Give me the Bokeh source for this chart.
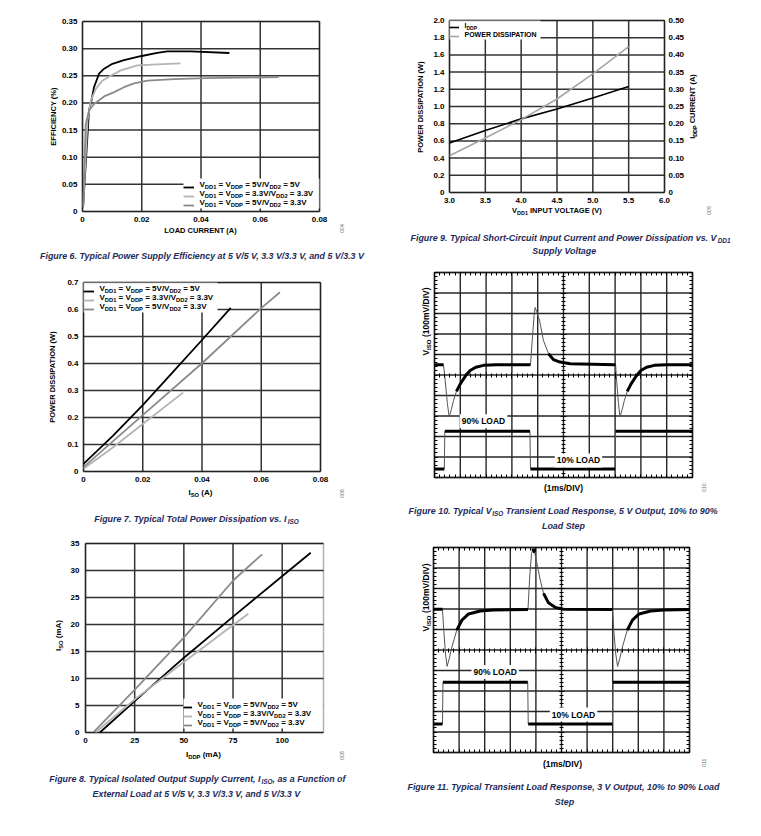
import math
from bokeh.plotting import figure
from bokeh.models import (Range1d, LinearAxis, FixedTicker, Label, Legend, LegendItem,
                          CustomJSTickFormatter, BoxAnnotation)
from bokeh.core.properties import value
from bokeh.layouts import row, column
from bokeh.embed import file_html
from bokeh.resources import INLINE

# ---------------- data ----------------
# Figure 6: efficiency vs load current (A)
F6_I_55 = [0.0002, 0.0022, 0.0030, 0.0039, 0.0056, 0.0073, 0.0101, 0.0140, 0.0196, 0.0252, 0.0286, 0.0365, 0.0496]
F6_E_55 = [0.008, 0.186, 0.204, 0.229, 0.254, 0.263, 0.272, 0.279, 0.286, 0.292, 0.295, 0.295, 0.292]
F6_I_33 = [0.0002, 0.0017, 0.0028, 0.0045, 0.0067, 0.0095, 0.0129, 0.0185, 0.0252, 0.0331]
F6_E_33 = [0.008, 0.168, 0.204, 0.226, 0.241, 0.250, 0.260, 0.269, 0.271, 0.273]
F6_I_53 = [0.0002, 0.0011, 0.0022, 0.0039, 0.0073, 0.0107, 0.0140, 0.0174, 0.0219, 0.0309, 0.0420, 0.0662]
F6_E_53 = [0.008, 0.161, 0.186, 0.198, 0.212, 0.220, 0.229, 0.236, 0.241, 0.244, 0.2456, 0.2475]
F6_XTICKS = [0, 0.02, 0.04, 0.06, 0.08]
F6_XLABELS = ["0", "0.02", "0.04", "0.06", "0.08"]
F6_YTICKS = [0, 0.05, 0.10, 0.15, 0.20, 0.25, 0.30, 0.35]
F6_YLABELS = ["0", "0.05", "0.10", "0.15", "0.20", "0.25", "0.30", "0.35"]

# Figure 7: power dissipation (W) vs I_ISO (A)
F7_I_55 = [0, 0.01, 0.02, 0.03, 0.04, 0.0497]
F7_P_55 = [0.028, 0.133, 0.246, 0.366, 0.487, 0.606]
F7_I_33 = [0, 0.01, 0.02, 0.0336]
F7_P_33 = [0.010, 0.090, 0.176, 0.292]
F7_I_53 = [0, 0.02, 0.04, 0.06, 0.0663]
F7_P_53 = [0.016, 0.209, 0.401, 0.605, 0.664]
F7_XTICKS = [0, 0.02, 0.04, 0.06, 0.08]
F7_XLABELS = ["0", "0.02", "0.04", "0.06", "0.08"]
F7_YTICKS = [0, 0.1, 0.2, 0.3, 0.4, 0.5, 0.6, 0.7]
F7_YLABELS = ["0", "0.1", "0.2", "0.3", "0.4", "0.5", "0.6", "0.7"]

# Figure 8: I_ISO (mA) vs I_DDP (mA)
F8_D_55 = [7.3, 25.3, 50.2, 75.2, 99.8, 114.5]
F8_S_55 = [0, 5.9, 13.9, 21.5, 28.9, 33.3]
F8_D_33 = [5.1, 25.3, 50.2, 75.2, 82.8]
F8_S_33 = [0, 6.2, 13.1, 19.95, 22.0]
F8_D_53 = [4.25, 25.3, 50.2, 75.2, 89.8]
F8_S_53 = [0.1, 8.05, 17.66, 28.2, 33.0]
F8_XTICKS = [0, 25, 50, 75, 100]
F8_XLABELS = ["0", "25", "50", "75", "100"]
F8_YTICKS = [0, 5, 10, 15, 20, 25, 30, 35]
F8_YLABELS = ["0", "5", "10", "15", "20", "25", "30", "35"]

# Figure 9: short-circuit I_DDP (A) and power dissipation (W) vs V_DD1 (V)
F9_VDD1 = [3.0, 3.5, 4.0, 4.5, 5.0, 5.5]
F9_IDDP = [0.144, 0.180, 0.214, 0.243, 0.275, 0.308]
F9_PDIS = [0.427, 0.633, 0.847, 1.087, 1.379, 1.697]
F9_XTICKS = [3, 3.5, 4, 4.5, 5, 5.5, 6]
F9_XLABELS = ["3.0", "3.5", "4.0", "4.5", "5.0", "5.5", "6.0"]
F9_YTICKS = [0, 0.2, 0.4, 0.6, 0.8, 1, 1.2, 1.4, 1.6, 1.8, 2]
F9_YLABELS = ["0", "0.2", "0.4", "0.6", "0.8", "1.0", "1.2", "1.4", "1.6", "1.8", "2.0"]
F9_Y2TICKS = [0, 0.05, 0.1, 0.15, 0.2, 0.25, 0.3, 0.35, 0.4, 0.45, 0.5]
F9_Y2LABELS = ["0", "0.05", "0.10", "0.15", "0.20", "0.25", "0.30", "0.35", "0.40", "0.45", "0.50"]

# Figure 10: scope traces, in divisions (time 0..10, vertical 0..10)
F10_T_V = [0, 0.35, 0.40, 0.50, 0.57, 0.65, 0.74, 0.85, 1.0, 1.2, 1.38, 1.6, 1.9, 2.4, 3.72,
           3.80, 3.86, 3.90, 3.96, 4.07, 4.22, 4.42, 4.61, 4.87, 5.26, 6.99,
           7.02, 7.05, 7.13, 7.19, 7.27, 7.36, 7.47, 7.62, 7.82, 8.0, 8.22, 8.52, 9.0, 10]
F10_V = [5.5, 5.5, 4.9, 3.6, 2.96, 3.3, 3.76, 4.2, 4.57, 4.95, 5.22, 5.38, 5.47, 5.5, 5.5,
         6.9, 7.9, 8.29, 8.1, 7.67, 6.69, 6.04, 5.75, 5.63, 5.55, 5.5,
         5.5, 4.9, 3.6, 2.96, 3.3, 3.76, 4.2, 4.57, 4.95, 5.22, 5.38, 5.47, 5.5, 5.5]
F10_T_L = [0, 0.38, 0.40, 3.70, 3.72, 7.00, 7.02, 10]
F10_L = [0.42, 0.42, 2.26, 2.26, 0.42, 0.42, 2.26, 2.26]
F10_LOAD_TEXT = ["90% LOAD", "10% LOAD"]
F10_LOAD_POS = [(1.9, 2.75), (5.58, 0.83)]

# Figure 11
F11_T_V = [0, 0.35, 0.40, 0.47, 0.53, 0.62, 0.72, 0.91, 1.11, 1.37, 1.82, 2.34, 3.69,
           3.76, 3.83, 3.88, 3.95, 4.04, 4.17, 4.30, 4.49, 4.75, 5.08, 6.99,
           7.04, 7.12, 7.19, 7.28, 7.38, 7.57, 7.77, 8.03, 8.48, 9.0, 10]
F11_V = [6.99, 6.99, 6.0, 4.8, 4.2, 4.6, 5.15, 5.97, 6.46, 6.76, 6.90, 6.95, 6.97,
         8.6, 9.7, 9.95, 9.75, 9.23, 8.41, 7.76, 7.30, 7.08, 6.99, 6.98,
         6.0, 4.8, 4.2, 4.6, 5.15, 5.97, 6.46, 6.76, 6.90, 6.95, 6.98]
F11_T_L = [0, 0.35, 0.37, 3.68, 3.70, 6.99, 7.01, 10]
F11_L = [1.39, 1.39, 3.43, 3.43, 1.39, 1.39, 3.43, 3.43]
F11_LOAD_TEXT = ["90% LOAD", "10% LOAD"]
F11_LOAD_POS = [(2.41, 3.93), (5.47, 1.85)]

SCOPE_TICKS = [0, 1, 2, 3, 4, 5, 6, 7, 8, 9, 10]

SUB = "_"
LEGEND_3 = [
    ["V", (SUB, "DD1"), " = V", (SUB, "DDP"), " = 5V/V", (SUB, "DD2"), " = 5V"],
    ["V", (SUB, "DD1"), " = V", (SUB, "DDP"), " = 3.3V/V", (SUB, "DD2"), " = 3.3V"],
    ["V", (SUB, "DD1"), " = V", (SUB, "DDP"), " = 5V/V", (SUB, "DD2"), " = 3.3V"],
]
LEGEND_9 = [["I", (SUB, "DDP")], ["POWER DISSIPATION"]]

# ---------------- styling ----------------
FONT = "Liberation Sans"
CAP_COLOR = "#1d2a5a"
CAP_SIZE = 8.9
BLACK = "#000000"
LIGHT = "#b4b4b4"
MID = "#8a8a8a"
GRID = "#333333"

_W = {' ': 278, '!': 333, '%': 889, '(': 333, ')': 333, ',': 278, '-': 333, '.': 278, '/': 278,
      ':': 333, '=': 584,
      'A': 722, 'B': 722, 'C': 722, 'D': 722, 'E': 667, 'F': 611, 'G': 778, 'H': 722, 'I': 278,
      'J': 556, 'K': 722, 'L': 611, 'M': 833, 'N': 722, 'O': 778, 'P': 667, 'Q': 778, 'R': 722,
      'S': 667, 'T': 611, 'U': 722, 'V': 667, 'W': 944, 'X': 667, 'Y': 667, 'Z': 611,
      'a': 556, 'b': 611, 'c': 556, 'd': 611, 'e': 556, 'f': 333, 'g': 611, 'h': 611, 'i': 278,
      'j': 278, 'k': 556, 'l': 278, 'm': 889, 'n': 611, 'o': 611, 'p': 611, 'q': 611, 'r': 389,
      's': 556, 't': 333, 'u': 611, 'v': 556, 'w': 778, 'x': 556, 'y': 556, 'z': 500}


def text_w(s, size):
    return sum(_W.get(c, 556) for c in s) * size / 1000.0


class Panel:
    """Maps page pixels to the data coordinates of one chart."""

    def __init__(self, frame, xr, yr):
        self.p = None
        self.l, self.t, self.r, self.b = frame
        self.xr, self.yr = xr, yr

    def data(self, px, py, yr=None):
        yr = yr or self.yr
        x = self.xr[0] + (px - self.l) / (self.r - self.l) * (self.xr[1] - self.xr[0])
        y = yr[0] + (self.b - py) / (self.b - self.t) * (yr[1] - yr[0])
        return x, y

    def rich(self, px, py, parts, size=8.0, align="center", vertical=False, font=FONT,
             style="bold", color="black", sub_scale=0.72):
        segs = [(q[1], True) if isinstance(q, tuple) else (q, False) for q in parts]
        sizes = [size * sub_scale if sub else size for _, sub in segs]
        widths = [text_w(t, s) for (t, _), s in zip(segs, sizes)]
        total = sum(widths)
        cur = {"left": 0.0, "center": -total / 2.0, "right": -total}[align]
        for (t, sub), s, w in zip(segs, sizes, widths):
            lead = len(t) - len(t.lstrip(" "))
            shown = t.strip(" ")
            start = cur + text_w(" " * lead, s)
            shift = 0.32 * size if sub else 0.0
            if vertical:
                qx, qy, ang = px + shift, py - start, math.pi / 2
            else:
                qx, qy, ang = px + start, py + shift, 0.0
            x, y = self.data(qx, qy)
            if shown:
                self.p.add_layout(Label(x=x, y=y, text=shown, angle=ang, text_align="left",
                                        text_baseline="middle", text_font=font,
                                        text_font_style=style, text_font_size=f"{s:.2f}px",
                                        text_color=color))
            cur += w


def style_axis(ax, ticks, labels, standoff=5):
    ax.ticker = FixedTicker(ticks=ticks, minor_ticks=[])
    ax.major_label_overrides = {(int(t) if float(t).is_integer() else t): s
                                for t, s in zip(ticks, labels)}
    ax.axis_line_color = None
    ax.major_tick_line_color = None
    ax.minor_tick_line_color = None
    ax.major_tick_in = 0
    ax.major_tick_out = 0
    ax.minor_tick_in = 0
    ax.minor_tick_out = 0
    ax.major_label_standoff = standoff
    ax.major_label_text_font = FONT
    ax.major_label_text_font_style = "bold"
    ax.major_label_text_font_size = "8px"
    ax.major_label_text_color = "black"


def make_chart(origin, size, frame, xr, yr):
    ox, oy = origin
    w, h = size
    pan = Panel(frame, xr, yr)
    xa, yb = pan.data(ox, oy)
    xb, ya = pan.data(ox + w, oy + h)
    p = figure(width=w, height=h, x_range=Range1d(xa, xb), y_range=Range1d(ya, yb),
               x_axis_type=None, y_axis_type=None, min_border=0,
               toolbar_location=None, output_backend="svg")
    p.outline_line_color = None
    p.background_fill_color = "white"
    p.border_fill_color = "white"
    pan.p = p
    pan.origin = origin
    pan.size = size
    return p, pan


def gridlines(p, pan, xt, yt, color=GRID, width=1.5):
    x0, x1 = pan.xr
    y0, y1 = pan.yr
    p.segment(x0=xt, y0=[y0] * len(xt), x1=xt, y1=[y1] * len(xt),
              line_color=color, line_width=width, level="underlay")
    p.segment(x0=[x0] * len(yt), y0=yt, x1=[x1] * len(yt), y1=yt,
              line_color=color, line_width=width, level="underlay")


def frame_box(p, pan, width=1.5):
    p.add_layout(BoxAnnotation(left=pan.xr[0], right=pan.xr[1], bottom=pan.yr[0], top=pan.yr[1],
                               fill_alpha=0, fill_color=None, line_color="black",
                               line_width=width))


def value_axes(p, pan, xt, xl, yt, yl, ystand=5):
    ax = LinearAxis(fixed_location=pan.yr[0])
    style_axis(ax, xt, xl, 5)
    p.add_layout(ax, "below")
    ay = LinearAxis(fixed_location=pan.xr[0])
    style_axis(ay, yt, yl, ystand)
    p.add_layout(ay, "left")


def legend_box(p, pan, box):
    bl, bt, br, bb = box
    x0, y0 = pan.data(bl, bb)
    x1, y1 = pan.data(br, bt)
    p.quad(left=[x0], right=[x1], bottom=[y0], top=[y1], fill_color="white",
           line_color=None, level="underlay")


def add_legend(p, pan, renderers, box, glyph_w, padding, spacing):
    bl, bt, br, bb = box
    ox, oy = pan.origin
    w, h = pan.size
    label_w = (br - bl) - 2 * padding - glyph_w - 2
    items = [LegendItem(label=value(" "), renderers=[r]) for r in renderers]
    lg = Legend(items=items, location=(bl - ox, oy + h - bb), orientation="vertical",
                glyph_width=glyph_w, glyph_height=6, label_height=6, label_width=label_w,
                label_standoff=2, padding=padding, spacing=spacing, margin=0,
                border_line_color=None, background_fill_alpha=0.0,
                label_text_font_size="5px")
    p.add_layout(lg)


def caption(pan, lines):
    for (cx, cy, parts) in lines:
        pan.rich(cx, cy, parts, size=CAP_SIZE, align="center", style="bold italic",
                 color=CAP_COLOR)


def fig_id(pan, px, py, txt):
    pan.rich(px, py, [txt], size=5.0, align="center", vertical=True, style="normal",
             color="#666666")


# ---------------- Figure 6 ----------------
p6, P6 = make_chart((0, 0), (380, 264), (82, 21, 319, 211), (0, 0.08), (0, 0.35))
gridlines(p6, P6, F6_XTICKS, F6_YTICKS)
LEG6 = (183, 178, 319, 208)
legend_box(p6, P6, LEG6)
r6a = p6.line(F6_I_55, F6_E_55, line_color=BLACK, line_width=1.8)
r6b = p6.line(F6_I_33, F6_E_33, line_color=LIGHT, line_width=1.8)
r6c = p6.line(F6_I_53, F6_E_53, line_color=MID, line_width=1.8)
add_legend(p6, P6, [r6a, r6b, r6c], LEG6, 11, 3, 3)
frame_box(p6, P6)
value_axes(p6, P6, F6_XTICKS, F6_XLABELS, F6_YTICKS, F6_YLABELS)
for parts, yy in zip(LEGEND_3, [184, 193, 202]):
    P6.rich(199, yy, parts, size=8, align="left")
P6.rich(53, 116, ["EFFICIENCY (%)"], size=7.5, vertical=True)
P6.rich(200, 230, ["LOAD CURRENT (A)"], size=7.5)
caption(P6, [(203, 255, ["Figure 6. Typical Power Supply Efficiency at 5 V/5 V, 3.3 V/3.3 V, and 5 V/3.3 V"])])
fig_id(P6, 341, 228, "004")

# ---------------- Figure 7 ----------------
p7, P7 = make_chart((0, 264), (380, 271), (83, 282, 320, 471), (0, 0.08), (0, 0.7))
gridlines(p7, P7, F7_XTICKS, F7_YTICKS)
LEG7 = (83, 282, 217, 312)
legend_box(p7, P7, LEG7)
r7a = p7.line(F7_I_55, F7_P_55, line_color=BLACK, line_width=1.8)
r7b = p7.line(F7_I_33, F7_P_33, line_color=LIGHT, line_width=1.8)
r7c = p7.line(F7_I_53, F7_P_53, line_color=MID, line_width=1.8)
add_legend(p7, P7, [r7a, r7b, r7c], LEG7, 11, 3, 3)
frame_box(p7, P7)
value_axes(p7, P7, F7_XTICKS, F7_XLABELS, F7_YTICKS, F7_YLABELS)
for parts, yy in zip(LEGEND_3, [288, 297, 306]):
    P7.rich(99, yy, parts, size=8, align="left")
P7.rich(52, 376, ["POWER DISSIPATION (W)"], size=7.5, vertical=True)
P7.rich(200, 492, ["I", (SUB, "SO"), " (A)"], size=8)
caption(P7, [(196, 518, ["Figure 7. Typical Total Power Dissipation vs. I", (SUB, "ISO")])])
fig_id(P7, 341, 493, "006")

# ---------------- Figure 8 ----------------
p8, P8 = make_chart((0, 535), (380, 293), (85, 543, 323, 732), (0, 121), (0, 35))
gridlines(p8, P8, F8_XTICKS, F8_YTICKS)
LEG8 = (183, 698, 323, 728)
legend_box(p8, P8, LEG8)
r8a = p8.line(F8_D_55, F8_S_55, line_color=BLACK, line_width=1.8)
r8b = p8.line(F8_D_33, F8_S_33, line_color=LIGHT, line_width=1.8)
r8c = p8.line(F8_D_53, F8_S_53, line_color=MID, line_width=1.8)
add_legend(p8, P8, [r8a, r8b, r8c], LEG8, 9, 3, 3)
frame_box(p8, P8)
value_axes(p8, P8, F8_XTICKS, F8_XLABELS, F8_YTICKS, F8_YLABELS, ystand=6)
for parts, yy in zip(LEGEND_3, [704, 713, 722]):
    P8.rich(197, yy, parts, size=8, align="left")
P8.rich(58, 635, ["I", (SUB, "SO"), " (mA)"], size=8, vertical=True)
P8.rich(203, 754, ["I", (SUB, "DDP"), " (mA)"], size=8)
caption(P8, [(197, 778, ["Figure 8. Typical Isolated Output Supply Current, I", (SUB, "ISO"), ", as a Function of"]),
             (197, 793, ["External Load at 5 V/5 V, 3.3 V/3.3 V, and 5 V/3.3 V"])])
fig_id(P8, 341, 755, "008")

# ---------------- Figure 9 ----------------
p9, P9 = make_chart((380, 0), (381, 262), (449, 20, 664, 192), (3, 6), (0, 2))
Y2 = (0, 0.5)
_, c_lo = P9.data(0, 262, Y2)
_, c_hi = P9.data(0, 0, Y2)
p9.extra_y_ranges = {"cur": Range1d(c_lo, c_hi)}
gridlines(p9, P9, F9_XTICKS, F9_YTICKS)
LEG9 = (449, 20, 540, 39)
legend_box(p9, P9, LEG9)
r9a = p9.line(F9_VDD1, F9_IDDP, y_range_name="cur", line_color=BLACK, line_width=1.6)
r9b = p9.line(F9_VDD1, F9_PDIS, line_color="#a6a6a6", line_width=1.6)
add_legend(p9, P9, [r9a, r9b], LEG9, 10, 2, 3)
frame_box(p9, P9)
value_axes(p9, P9, F9_XTICKS, F9_XLABELS, F9_YTICKS, F9_YLABELS)
ax9r = LinearAxis(y_range_name="cur", fixed_location=P9.xr[1])
style_axis(ax9r, F9_Y2TICKS, F9_Y2LABELS, standoff=4)
p9.add_layout(ax9r, "right")
for parts, yy in zip(LEGEND_9, [25, 34]):
    P9.rich(464, yy, parts, size=7, align="left")
P9.rich(420, 106, ["POWER DISSIPATION (W)"], size=7.5, vertical=True)
P9.rich(692, 106, ["I", (SUB, "DDP"), " CURRENT (A)"], size=7.5, vertical=True)
P9.rich(557, 210, ["V", (SUB, "DD1"), " INPUT VOLTAGE (V)"], size=7.5)
caption(P9, [(570, 237, ["Figure 9. Typical Short-Circuit Input Current and Power Dissipation vs. V", (SUB, "DD1")]),
             (564, 250, ["Supply Voltage"])])
fig_id(P9, 708, 210, "009")


# ---------------- scope figures ----------------
def scope_axis(p, side, loc, tin, tout, minor_in, minor_out):
    ax = LinearAxis(fixed_location=loc)
    ax.ticker = FixedTicker(ticks=SCOPE_TICKS, minor_ticks=[i / 5 for i in range(51)])
    ax.formatter = CustomJSTickFormatter(code="return ''")
    ax.axis_line_color = None
    ax.major_tick_line_color = "black"
    ax.minor_tick_line_color = "black"
    ax.major_tick_in = tin
    ax.major_tick_out = tout
    ax.minor_tick_in = minor_in
    ax.minor_tick_out = minor_out
    ax.major_label_standoff = 0
    ax.major_label_text_font_size = "1px"
    p.add_layout(ax, side)


def make_scope(origin, size, frame):
    p, pan = make_chart(origin, size, frame, (0, 10), (0, 10))
    gridlines(p, pan, SCOPE_TICKS, SCOPE_TICKS, color="#262626", width=1.4)
    frame_box(p, pan, width=2)
    scope_axis(p, "below", 0, 3, 0, 3, 0)
    scope_axis(p, "above", 10, 3, 0, 3, 0)
    scope_axis(p, "left", 0, 3, 0, 3, 0)
    scope_axis(p, "right", 10, 3, 0, 3, 0)
    scope_axis(p, "below", 5, 3, 3, 2, 2)
    scope_axis(p, "left", 5, 3, 3, 2, 2)
    return p, pan


def draw_trace(p, pan, t, v):
    kx = (pan.r - pan.l) / 10.0
    ky = (pan.b - pan.t) / 10.0
    xs, ys = [], []
    rx, ry = None, None
    for i in range(len(t) - 1):
        dx = (t[i + 1] - t[i]) * kx
        dy = (v[i + 1] - v[i]) * ky
        if abs(dy) <= 2.5 * abs(dx):
            if rx is None:
                rx, ry = [t[i]], [v[i]]
            rx.append(t[i + 1])
            ry.append(v[i + 1])
        else:
            if rx:
                xs.append(rx)
                ys.append(ry)
            rx, ry = None, None
    if rx:
        xs.append(rx)
        ys.append(ry)
    p.line(t, v, line_color="#555555", line_width=1)
    p.multi_line(xs, ys, line_color="black", line_width=3, line_join="round")


def load_labels(p, texts, pos):
    for txt, (x, y) in zip(texts, pos):
        p.add_layout(Label(x=x, y=y, text=txt, text_align="center", text_baseline="middle",
                           text_font=FONT, text_font_style="bold", text_font_size="8.5px",
                           text_color="black", background_fill_color="white", padding=2))


p10, P10 = make_scope((380, 262), (381, 274), (434, 272, 692, 477))
draw_trace(p10, P10, F10_T_V, F10_V)
draw_trace(p10, P10, F10_T_L, F10_L)
load_labels(p10, F10_LOAD_TEXT, F10_LOAD_POS)
P10.rich(425, 321, ["V", (SUB, "ISO"), " (100mV/DIV)"], size=8.5, vertical=True)
P10.rich(563, 487, ["(1ms/DIV)"], size=8.5)
caption(P10, [(563, 510, ["Figure 10. Typical V", (SUB, "ISO"), " Transient Load Response, 5 V Output, 10% to 90%"]),
              (563, 525, ["Load Step"])])
fig_id(P10, 703, 487, "010")

p11, P11 = make_scope((380, 536), (381, 292), (433, 547, 689, 752))
draw_trace(p11, P11, F11_T_V, F11_V)
draw_trace(p11, P11, F11_T_L, F11_L)
load_labels(p11, F11_LOAD_TEXT, F11_LOAD_POS)
P11.rich(425, 597, ["V", (SUB, "ISO"), " (100mV/DIV)"], size=8.5, vertical=True)
P11.rich(562, 763, ["(1ms/DIV)"], size=8.5)
caption(P11, [(564, 786, ["Figure 11. Typical Transient Load Response, 3 V Output, 10% to 90% Load"]),
              (564, 801, ["Step"])])
fig_id(P11, 703, 762, "011")

layout = row(column(p6, p7, p8), column(p9, p10, p11))
open("out.html", "w").write(file_html(layout, INLINE))
